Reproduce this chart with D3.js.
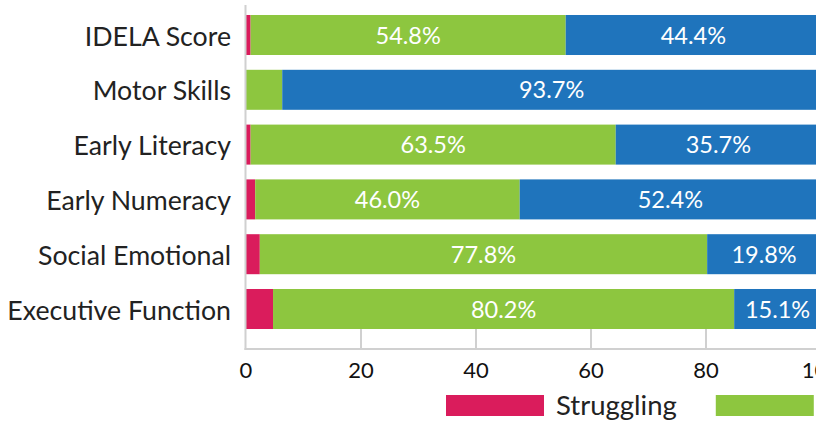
<!DOCTYPE html>
<html>
<head>
<meta charset="utf-8">
<script src="https://cdn.jsdelivr.net/npm/d3@7"></script>
<style>
  html, body { margin: 0; padding: 0; background: #fff; overflow: hidden; }
  svg { display: block; font-family: Lato, "Noto Sans", sans-serif; }
</style>
</head>
<body>
<svg id="chart" width="816" height="421"></svg>
<script>
const categories = ["IDELA Score", "Motor Skills", "Early Literacy", "Early Numeracy", "Social Emotional", "Executive Function"];
const seriesNames = ["Struggling", "Emerging", "Ready"];
const struggling = [0.8, 0, 0.8, 1.6, 2.4, 4.7];
const emerging   = [54.8, 6.3, 63.5, 46.0, 77.8, 80.2];
const ready      = [44.4, 93.7, 35.7, 52.4, 19.8, 15.1];
const xTicks = [0, 20, 40, 60, 80, 100];
const colors = ["#DA1C5C", "#8DC63F", "#1F74BC"];

const svg = d3.select("#chart");
const x = d3.scaleLinear().domain([0, 100]).range([246, 821]);
const y = d3.scaleBand().domain(categories).range([7.6, 336.4]).paddingInner(0.27).paddingOuter(0.135);

const rows = categories.map((c, i) => ({ cat: c, Struggling: struggling[i], Emerging: emerging[i], Ready: ready[i] }));
const stack = d3.stack().keys(seriesNames)(rows);

const axisY = 349;
svg.append("g").selectAll("line").data(xTicks.filter(t => t > 0)).join("line")
  .attr("x1", d => x(d)).attr("x2", d => x(d))
  .attr("y1", axisY - 20).attr("y2", axisY)
  .attr("stroke", "#d0d0d0").attr("stroke-width", 2);

stack.forEach((s, si) => {
  svg.append("g").selectAll("rect").data(s).join("rect")
    .attr("x", d => x(d[0]))
    .attr("y", d => y(d.data.cat))
    .attr("width", d => x(d[1]) - x(d[0]))
    .attr("height", y.bandwidth())
    .attr("fill", colors[si]);
});

stack.forEach((s, si) => {
  if (si === 0) return;
  svg.append("g").selectAll("text").data(s.filter(d => d[1] - d[0] >= 10)).join("text")
    .attr("x", d => (x(d[0]) + x(d[1])) / 2)
    .attr("y", d => y(d.data.cat) + y.bandwidth() / 2)
    .attr("dy", "0.37em")
    .attr("text-anchor", "middle")
    .attr("fill", "#fff")
    .attr("font-size", 23.5)
    .text(d => (d[1] - d[0]).toFixed(1) + "%");
});

svg.append("line").attr("x1", 245.5).attr("x2", 245.5).attr("y1", 5).attr("y2", axisY + 1)
  .attr("stroke", "#d0d0d0").attr("stroke-width", 2);
svg.append("line").attr("x1", 244.5).attr("x2", 830).attr("y1", axisY).attr("y2", axisY)
  .attr("stroke", "#d0d0d0").attr("stroke-width", 2);

svg.append("g").selectAll("text").data(xTicks).join("text")
  .attr("x", d => x(d))
  .attr("y", 378)
  .attr("text-anchor", "middle")
  .attr("fill", "#111")
  .attr("font-size", 22)
  .text(d => d);

svg.append("g").selectAll("text").data(categories).join("text")
  .attr("x", 231)
  .attr("y", d => y(d) + y.bandwidth() / 2)
  .attr("dy", "0.4em")
  .attr("text-anchor", "end")
  .attr("fill", "#222")
  .attr("font-size", 26.7)
  .text(d => d);

const leg = svg.append("g");
let lx = 446;
seriesNames.forEach((n, i) => {
  leg.append("rect").attr("x", lx).attr("y", 395).attr("width", 98).attr("height", 21).attr("fill", colors[i]);
  const t = leg.append("text").attr("x", lx + 110).attr("y", 415).attr("fill", "#222").attr("font-size", 27.5).text(n);
  lx = lx + 110 + t.node().getComputedTextLength() + 39;
});
</script>
</body>
</html>
